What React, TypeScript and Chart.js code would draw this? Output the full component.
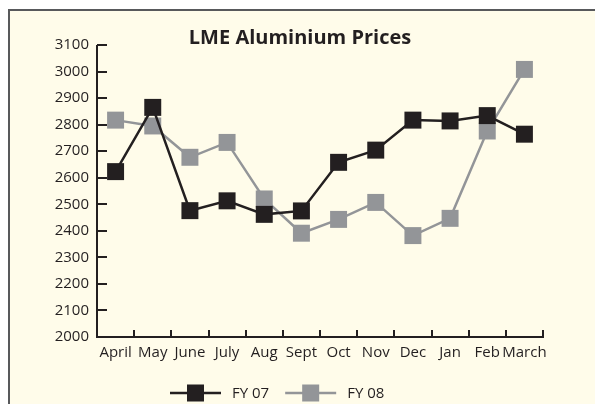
import React, { useEffect, useRef } from "react";
import { Chart, registerables } from "chart.js";

Chart.register(...registerables);

const months = ["April", "May", "June", "July", "Aug", "Sept", "Oct", "Nov", "Dec", "Jan", "Feb", "March"];
const fy07 = [2623, 2865, 2476, 2513, 2462, 2475, 2658, 2704, 2817, 2814, 2834, 2764];
const fy08 = [2817, 2795, 2677, 2733, 2520, 2391, 2443, 2507, 2382, 2447, 2776, 3008];
const seriesNames = ["FY 07", "FY 08"];
const seriesColors = ["#231f20", "#939598"];
const chartTitle = "LME Aluminium Prices";
const yMin = 2000;
const yMax = 3100;
const yStep = 100;

const FONT = "'Open Sans', 'Noto Sans', sans-serif";
const TEXT = "#231f20";
const AXIS = "#231f20";

const decorPlugin = {
  id: "decor",
  afterDraw(chart: any) {
    const ctx = chart.ctx as CanvasRenderingContext2D;
    const area = chart.chartArea;
    const xs = chart.scales.x;
    const ys = chart.scales.y;
    ctx.save();
    ctx.strokeStyle = AXIS;
    ctx.lineWidth = 2;
    ctx.lineCap = "butt";
    // axis lines
    ctx.beginPath();
    ctx.moveTo(area.left, area.top);
    ctx.lineTo(area.left, area.bottom + 1);
    ctx.moveTo(area.left - 1, area.bottom);
    ctx.lineTo(area.right + 1, area.bottom);
    ctx.stroke();
    // y ticks (inside)
    ctx.beginPath();
    ys.ticks.forEach((t: any) => {
      const py = Math.round(ys.getPixelForValue(t.value));
      ctx.moveTo(area.left, py);
      ctx.lineTo(area.left + 10, py);
    });
    // x ticks (inside) at category boundaries
    const half = (xs.getPixelForValue(1) - xs.getPixelForValue(0)) / 2;
    for (let i = 0; i < months.length; i++) {
      const px = Math.round(xs.getPixelForValue(i) + half);
      ctx.moveTo(px, area.bottom);
      ctx.lineTo(px, area.bottom - 7);
    }
    ctx.stroke();

    // title
    ctx.fillStyle = TEXT;
    ctx.font = `bold 20px ${FONT}`;
    ctx.textAlign = "center";
    ctx.textBaseline = "middle";
    ctx.fillText(chartTitle, 300, 38);

    // legend
    ctx.font = `15px ${FONT}`;
    ctx.textAlign = "left";
    const ly = 393;
    let lx = 170;
    chart.data.datasets.forEach((ds: any) => {
      const lineLen = 51;
      ctx.strokeStyle = ds.borderColor;
      ctx.lineWidth = 2.5;
      ctx.beginPath();
      ctx.moveTo(lx, ly);
      ctx.lineTo(lx + lineLen, ly);
      ctx.stroke();
      ctx.fillStyle = ds.backgroundColor;
      ctx.fillRect(lx + lineLen / 2 - 8.5, ly - 8.5, 17, 17);
      ctx.fillStyle = TEXT;
      const tx = lx + lineLen + 11;
      ctx.fillText(ds.label, tx, ly + 1);
      lx = tx + ctx.measureText(ds.label).width + 16;
    });
    ctx.restore();
  },
};

export default function App() {
  const ref = useRef<HTMLCanvasElement | null>(null);
  useEffect(() => {
    if (!ref.current) return;
    const chart = new Chart(ref.current, {
      type: "line",
      data: {
        labels: months,
        datasets: [
          {
            label: seriesNames[0],
            data: fy07,
            borderColor: seriesColors[0],
            backgroundColor: seriesColors[0],
            pointBackgroundColor: seriesColors[0],
            pointBorderWidth: 0,
            pointStyle: "rect",
            pointRadius: 12,
            borderWidth: 2.5,
            tension: 0,
            order: 0,
          },
          {
            label: seriesNames[1],
            data: fy08,
            borderColor: seriesColors[1],
            backgroundColor: seriesColors[1],
            pointBackgroundColor: seriesColors[1],
            pointBorderWidth: 0,
            pointStyle: "rect",
            pointRadius: 12,
            borderWidth: 2.5,
            tension: 0,
            order: 1,
          },
        ],
      },
      options: {
        responsive: false,
        animation: false,
        layout: { padding: { top: 45, right: 52, left: 0, bottom: 0 } },
        plugins: {
          legend: { display: false },
          title: { display: false },
          tooltip: { enabled: false },
        },
        scales: {
          x: {
            offset: true,
            grid: { display: false, drawTicks: false },
            border: { display: false },
            ticks: { color: TEXT, font: { family: FONT, size: 15 }, padding: 7, maxRotation: 0, autoSkip: false },
            afterFit: (s: any) => {
              s.height = 67;
            },
          },
          y: {
            min: yMin,
            max: yMax,
            grid: { display: false, drawTicks: false },
            border: { display: false },
            ticks: {
              stepSize: yStep,
              color: TEXT,
              font: { family: FONT, size: 15 },
              padding: 8,
              callback: (v: any) => String(v),
            },
            afterFit: (s: any) => {
              s.width = 97;
            },
          },
        },
      },
      plugins: [decorPlugin],
    });
    return () => chart.destroy();
  }, []);

  return (
    <div>
      <div
        style={{
          position: "absolute",
          left: 8,
          top: 9,
          width: 620,
          height: 420,
          background: "#fffcea",
          borderTop: "2px solid #58595b",
          borderLeft: "2px solid #58595b",
        }}
      />
      <canvas
        ref={ref}
        width={595}
        height={404}
        style={{ position: "absolute", left: 0, top: 0, width: 595, height: 404 }}
      />
    </div>
  );
}
